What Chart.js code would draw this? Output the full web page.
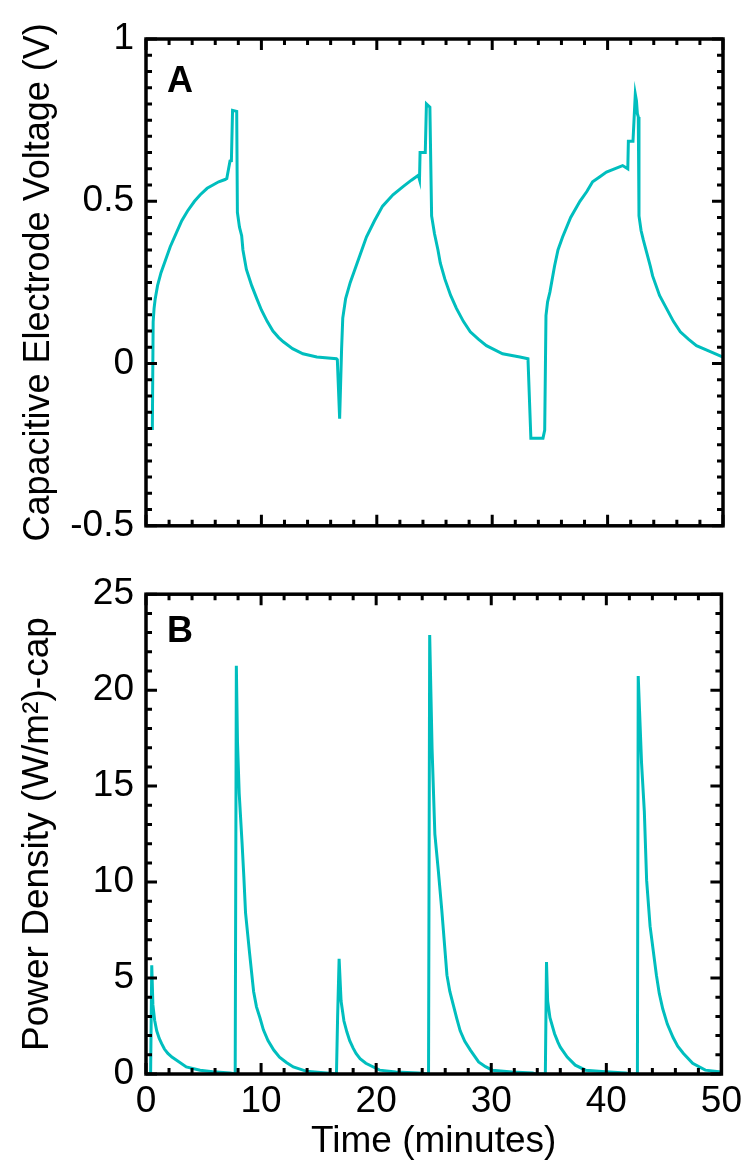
<!DOCTYPE html>
<html>
<head>
<meta charset="utf-8">
<script src="https://cdn.jsdelivr.net/npm/chart.js@4.4.1/dist/chart.umd.min.js"></script>
<style>
  body { margin: 0; background: #fff; }
  #wrap { position: relative; width: 748px; height: 1164px; }
  canvas { position: absolute; left: 0; }
  #chartA { top: 0; }
  #chartB { top: 560px; }
</style>
</head>
<body>
<div id="wrap">
  <canvas id="chartA" width="748" height="560"></canvas>
  <canvas id="chartB" width="748" height="604"></canvas>
</div>
<script>
// panel A - capacitive electrode voltage (V) vs time (minutes)
const timeA = [0, 0.55, 0.62, 0.7, 0.8, 1.0, 1.3, 1.7, 2.1, 2.6, 3.1, 3.6, 4.2, 4.7, 5.3, 5.8, 6.3, 6.85, 7.0, 7.28,
  7.4, 7.5, 7.86, 7.92, 8.1, 8.29, 8.4, 8.7, 9.16, 9.6, 10.0, 10.5, 11.0, 11.5, 11.9, 12.7, 13.6, 14.8, 16.5, 16.58,
  16.78, 16.95, 17.05, 17.3, 17.7, 18.1, 18.5, 19.1, 19.8, 20.5, 21.4, 22.3, 23.0, 23.6, 23.7, 23.75, 24.2, 24.3,
  24.6, 24.75, 25.0, 25.3, 25.5, 25.9, 26.4, 26.9, 27.5, 28.1, 28.8, 29.5, 30.9, 32.4, 33.1, 33.35, 34.4, 34.55,
  34.66, 34.8, 35.0, 35.4, 35.7, 36.1, 36.8, 37.6, 38.2, 38.7, 39.3, 39.9, 40.6, 41.3, 41.75, 41.8, 42.2, 42.4,
  42.5, 42.58, 42.66, 42.72, 42.9, 43.1, 43.4, 43.7, 43.9, 44.5, 45.1, 45.7, 46.3, 47.0, 47.7, 48.9, 50];
const voltageA = [-0.2, -0.2, 0.128, 0.17, 0.2, 0.24, 0.28, 0.32, 0.36, 0.40, 0.44, 0.47, 0.50, 0.52, 0.54, 0.55, 0.56, 0.567, 0.57, 0.624,
  0.625, 0.78, 0.777, 0.466, 0.42, 0.394, 0.35, 0.29, 0.24, 0.2, 0.165, 0.13, 0.1, 0.08, 0.067, 0.046, 0.03, 0.02, 0.015, 0.012,
  -0.17, 0.046, 0.14, 0.2, 0.25, 0.29, 0.33, 0.39, 0.44, 0.485, 0.52, 0.546, 0.565, 0.58, 0.567, 0.65, 0.65, 0.80,
  0.79, 0.455, 0.40, 0.35, 0.31, 0.26, 0.21, 0.17, 0.13, 0.098, 0.075, 0.055, 0.03, 0.02, 0.015, -0.23, -0.23, -0.205,
  0.148, 0.19, 0.22, 0.30, 0.35, 0.39, 0.45, 0.50, 0.53, 0.56, 0.575, 0.59, 0.60, 0.61, 0.60, 0.685, 0.685, 0.83,
  0.81, 0.77, 0.76, 0.455, 0.41, 0.38, 0.34, 0.30, 0.27, 0.21, 0.17, 0.13, 0.098, 0.075, 0.055, 0.037, 0.02];

// panel B - power density (W/m2) vs time (minutes)
const timeB = [0, 0.4, 0.5, 0.6, 0.75, 0.93, 1.15, 1.36, 1.6, 1.9, 2.25, 2.66, 3.5, 4.7, 5.8, 7.3, 7.75, 7.85, 7.95, 8.1,
  8.35, 8.5, 8.65, 9.0, 9.35, 9.6, 9.9, 10.2, 10.6, 11.1, 11.6, 12.2, 12.8, 13.9, 16.2, 16.55, 16.65, 16.78, 16.95,
  17.2, 17.45, 17.7, 18.0, 18.25, 18.6, 19.1, 20.3, 21.7, 23.7, 24.55, 24.65, 24.86, 25.1, 25.4, 25.7, 26.15, 26.4,
  26.7, 27.0, 27.3, 27.7, 28.2, 28.9, 29.5, 30.1, 31.8, 33.6, 33.85, 34.7, 34.8, 34.9, 35.1, 35.5, 35.8, 36.0, 36.6,
  37.3, 38.2, 39.9, 41.7, 42.0, 42.7, 42.77, 43.06, 43.3, 43.5, 43.8, 44.35, 44.6, 44.9, 45.3, 45.8, 46.2, 46.7,
  47.5, 48.6, 50];
const powerB = [0, 0, 5.67, 3.6, 2.8, 2.25, 1.85, 1.58, 1.3, 1.07, 0.88, 0.72, 0.37, 0.2, 0.12, 0.05, 0, 21.27, 17.3, 14.6,
  12.0, 10.3, 8.4, 6.3, 4.3, 3.5, 2.93, 2.3, 1.74, 1.25, 0.88, 0.6, 0.37, 0.15, 0.03, 0, 3.0, 6.0, 3.8,
  2.76, 2.2, 1.74, 1.35, 1.07, 0.8, 0.56, 0.2, 0.1, 0.05, 0, 22.87, 16.9, 12.5, 10.6, 8.55, 5.15, 4.3,
  3.6, 2.9, 2.25, 1.7, 1.23, 0.63, 0.38, 0.2, 0.1, 0.05, 0, 0, 5.83, 3.8, 2.93, 2.1, 1.65, 1.4, 0.88,
  0.46, 0.2, 0.12, 0.05, 0, 0, 20.74, 16.2, 13.7, 10.1, 7.7, 5.15, 4.2, 3.4, 2.6, 1.9, 1.45, 1.07,
  0.56, 0.2, 0.1];

const lineColor = 'rgb(0, 190, 190)';
Chart.defaults.font.family = "'Liberation Sans', Arial, sans-serif";
Chart.defaults.color = '#000';

// box frame with inward ticks on all four sides + panel letter
const frameTicks = {
  id: 'frameTicks',
  afterDatasetsDraw(chart, args, opts) {
    const { ctx, chartArea: a, scales: { x, y } } = chart;
    const isMajor = (v, m) => Math.abs(v / m - Math.round(v / m)) < 1e-6;
    ctx.save();
    ctx.strokeStyle = '#000';
    ctx.lineWidth = 3;
    ctx.beginPath();
    const nx = Math.round((x.max - x.min) / opts.xMinor);
    for (let i = 0; i <= nx; i++) {
      const v = x.min + i * opts.xMinor;
      const px = x.getPixelForValue(v);
      const len = isMajor(v, opts.xMajor) ? 11 : 6;
      ctx.moveTo(px, a.bottom); ctx.lineTo(px, a.bottom - len);
      ctx.moveTo(px, a.top); ctx.lineTo(px, a.top + len);
    }
    const ny = Math.round((y.max - y.min) / opts.yMinor);
    for (let i = 0; i <= ny; i++) {
      const v = y.min + i * opts.yMinor;
      const py = y.getPixelForValue(v);
      const len = isMajor(v, opts.yMajor) ? 11 : 6;
      ctx.moveTo(a.left, py); ctx.lineTo(a.left + len, py);
      ctx.moveTo(a.right, py); ctx.lineTo(a.right - len, py);
    }
    ctx.stroke();
    ctx.lineWidth = 3.5;
    ctx.strokeRect(a.left, a.top, a.right - a.left, a.bottom - a.top);
    ctx.fillStyle = '#000';
    ctx.font = "bold 36px 'Liberation Sans', Arial, sans-serif";
    ctx.textBaseline = 'alphabetic';
    ctx.fillText(opts.label, a.left + 21, a.top + opts.labelDy);
    ctx.restore();
  }
};

const toPoints = (xs, ys) => xs.map((t, i) => ({ x: t, y: ys[i] }));

const lineDataset = (pts) => ({
  data: pts,
  borderColor: lineColor,
  borderWidth: 3,
  pointRadius: 0,
  tension: 0,
  fill: false,
});

const tickFont = { size: 37 };

new Chart(document.getElementById('chartA'), {
  type: 'line',
  data: { datasets: [lineDataset(toPoints(timeA, voltageA))] },
  options: {
    responsive: false,
    animation: false,
    layout: { padding: { top: 39, right: 25, bottom: 32, left: 0 } },
    scales: {
      x: { type: 'linear', min: 0, max: 50, display: false },
      y: {
        type: 'linear',
        min: -0.5,
        max: 1,
        grid: { display: false, drawTicks: false },
        border: { display: false },
        ticks: { stepSize: 0.5, font: tickFont, padding: 12, callback: (v) => String(v) },
        title: {
          display: true,
          text: 'Capacitive Electrode Voltage (V)',
          font: { size: 36 },
          padding: { top: 17, bottom: 0 },
        },
        afterFit: (scale) => { scale.width = 146; },
      },
    },
    plugins: {
      legend: { display: false },
      tooltip: { enabled: false },
      frameTicks: { xMinor: 2, xMajor: 10, yMinor: 0.05, yMajor: 0.5, label: 'A', labelDy: 53 },
    },
  },
  plugins: [frameTicks],
});

new Chart(document.getElementById('chartB'), {
  type: 'line',
  data: { datasets: [lineDataset(toPoints(timeB, powerB))] },
  options: {
    responsive: false,
    animation: false,
    layout: { padding: { top: 25, right: 25, bottom: 0, left: 0 } },
    scales: {
      x: {
        type: 'linear',
        min: 0,
        max: 50,
        grid: { display: false, drawTicks: false },
        border: { display: false },
        ticks: { stepSize: 10, font: tickFont, padding: 6, maxRotation: 0 },
        title: {
          display: true,
          text: 'Time (minutes)',
          font: { size: 37 },
          padding: { top: 0, bottom: 0 },
        },
        afterFit: (scale) => { scale.height = 90; },
      },
      y: {
        type: 'linear',
        min: 0,
        max: 25,
        grid: { display: false, drawTicks: false },
        border: { display: false },
        ticks: { stepSize: 5, font: tickFont, padding: 12 },
        title: {
          display: true,
          text: 'Power Density (W/m²)-cap',
          font: { size: 37 },
          padding: { top: 16, bottom: 0 },
        },
        afterFit: (scale) => { scale.width = 146; },
      },
    },
    plugins: {
      legend: { display: false },
      tooltip: { enabled: false },
      frameTicks: { xMinor: 2, xMajor: 10, yMinor: 1, yMajor: 5, label: 'B', labelDy: 48 },
    },
  },
  plugins: [frameTicks],
});
</script>
</body>
</html>
